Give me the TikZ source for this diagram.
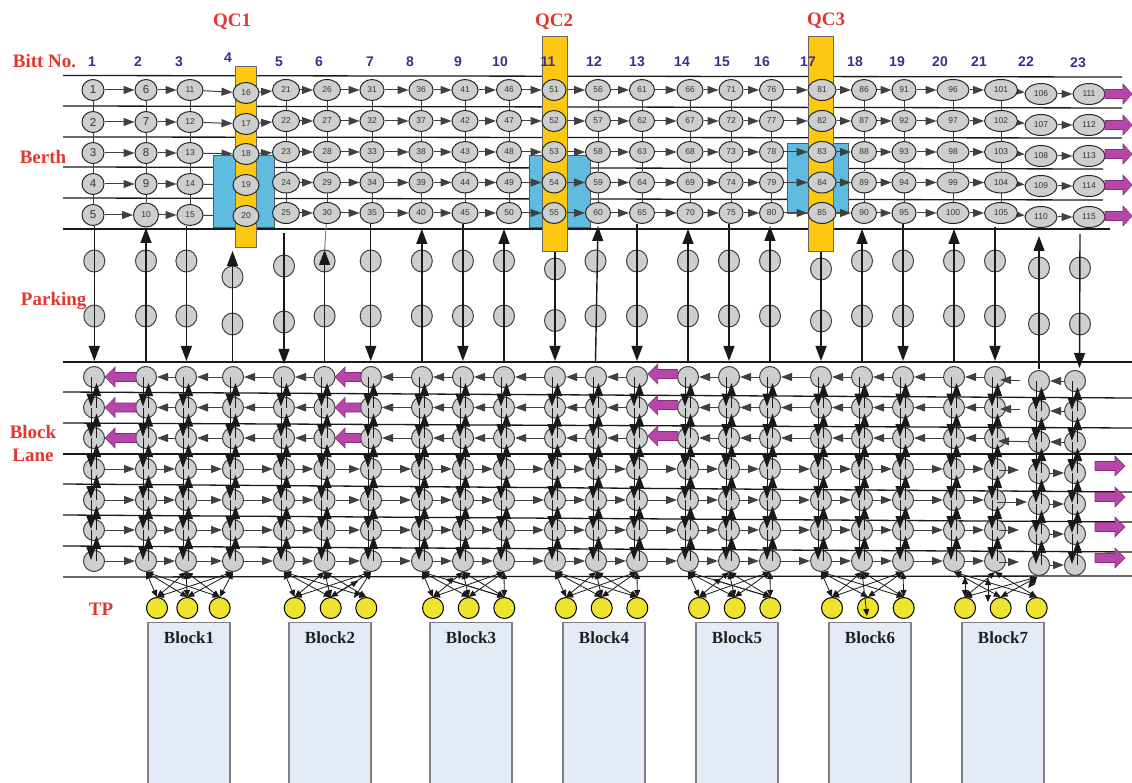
\documentclass[tikz,border=0pt]{standalone}
\usepackage{fontspec}
\setmainfont{Liberation Serif}
\setsansfont{Liberation Sans}
\usetikzlibrary{shapes.geometric,arrows.meta}
\definecolor{redlab}{HTML}{E6352B}
\definecolor{indigo}{HTML}{3B2E92}
\definecolor{nodegray}{HTML}{CDCFCF}
\definecolor{qcyellow}{HTML}{FDC80F}
\definecolor{quayblue}{HTML}{5FBBE0}
\definecolor{tpyellow}{HTML}{EEE32E}
\definecolor{blockfill}{HTML}{E4EBF6}
\definecolor{purp}{HTML}{B846A8}
\pgfdeclarelayer{lines}\pgfdeclarelayer{under}\pgfdeclarelayer{quay}\pgfdeclarelayer{arrows}\pgfdeclarelayer{top}
\pgfsetlayers{lines,under,quay,arrows,main,top}
\tikzset{
 gridline/.style={line width=1.3pt,draw=black!90},
 berthnode/.style={ellipse,draw=black!85,fill=nodegray,line width=1pt,inner sep=0pt,text=black!80,font=\sffamily\fontsize{8.5}{8.5}\selectfont},
 bigdigit/.style={font=\sffamily\fontsize{11.5}{11.5}\selectfont},
 lanenode/.style={circle,draw=black!75,fill=nodegray,line width=1pt,inner sep=0pt,minimum size=21pt},
 parknode/.style={ellipse,draw=black!75,fill=nodegray,line width=1pt,inner sep=0pt,minimum width=21pt,minimum height=22pt},
 tpnode/.style={circle,draw=black,fill=tpyellow,line width=1pt,inner sep=0pt,minimum size=21pt},
 harrow/.style={draw=black!75,line width=1pt,-{Triangle[length=11pt,width=8pt]}},
 vlink/.style={draw=black!75,line width=1pt},
 varrow/.style={draw=black!90,line width=1pt,-{Triangle[length=13pt,width=9pt]}},
 parkline/.style={draw=black!90,line width=1.4pt,-{Triangle[length=15pt,width=11pt]}},
 tpedge/.style={draw=black!90,line width=.8pt,{Triangle[length=7pt,width=6pt]}-{Triangle[length=7pt,width=6pt]}},
 tpstub/.style={draw=black!90,line width=.8pt,-{Triangle[length=7pt,width=6pt]}},
 qcbox/.style={draw=black!60,fill=qcyellow,line width=1pt},
 quaybox/.style={draw=black!65,fill=quayblue,line width=1pt},
 blockbox/.style={draw=black!50,fill=blockfill,line width=1.2pt,anchor=north,minimum width=82pt,minimum height=163pt,inner sep=0pt},
 blocktext/.style={font=\bfseries\fontsize{17}{17}\selectfont,text=black!88},
 redtext/.style={font=\bfseries\fontsize{19}{19}\selectfont,text=redlab},
 bitt/.style={font=\sffamily\bfseries\fontsize{14}{14}\selectfont,text=indigo},
 bigarrow/.style={draw=purp!70!black,fill=purp,line width=.6pt}
}
\newcommand{\parrow}[4]{\draw[bigarrow] (#1,#4-4.5) -- (#2,#4-4.5) -- (#2,#4-10) -- (#3,#4) -- (#2,#4+10) -- (#2,#4+4.5) -- (#1,#4+4.5) -- cycle;}
\begin{document}
\begin{tikzpicture}[x=1pt,y=-1pt]
\useasboundingbox (0,0) rectangle (1132,783);
% ---- grid lines
\begin{pgfonlayer}{lines}
\foreach \ya/\xb/\yb in {75.5/1122/77,106/1122/108,137/1122/138,167/1103/169,198/1103/200,229/1110/229,
  362/1132/362,392/1132/398,423/1132/428,454/1132/454,484/1132/492,515/1132/522,546/1132/552,577/1132/576}
  \draw[gridline] (63,\ya) -- (\xb,\yb);
\end{pgfonlayer}
% ---- quay cranes
\begin{pgfonlayer}{quay}
\draw[quaybox] (213,156) rectangle (274,228);
\draw[quaybox] (529,156) rectangle (590,228);
\draw[quaybox] (787,144) rectangle (848,214);
\draw[qcbox] (235,67) rectangle (256,248);
\draw[qcbox] (542,37) rectangle (567,252);
\draw[qcbox] (808,37) rectangle (833,252);
\end{pgfonlayer}
% ---- berth nodes
\foreach \cl/\x/\w/\g in {1/93/22/1,2/146/22/1,3/190/26/1,4/246/26/2,5/286/27/3,6/327/27/3,7/372/24/3,8/421/24/3,9/465/26/3,10/509/25/3,11/554/24/3,12/598/25/3,13/642/25/3,14/690/26/3,15/731/24/3,16/771.5/24/3,17/822/28/3,18/864/25/3,19/904/24/3,20/953/32/3,21/1001/33/3,22/1041/32/4,23/1089/32/4}{
 \foreach \r/\ya/\yb/\yc/\yd in {1/90/93/90/94,2/122/124/121/125,3/153/154/152/156,4/184/185/182.5/186,5/215/216/213/217}{
  \edef\yy{\ifcase\g\or\ya\or\yb\or\yc\or\yd\fi}
  \pgfmathtruncatemacro{\n}{5*(\cl-1)+\r}
  \ifnum\n=10 \def\hh{24}\def\ww{25}\else\def\hh{21}\edef\ww{\w}\fi
  \ifnum\n<10
   \node[berthnode,bigdigit,minimum width=\ww pt,minimum height=\hh pt] (b\cl-\r) at (\x,\yy) {\n};
  \else
   \node[berthnode,minimum width=\ww pt,minimum height=\hh pt] (b\cl-\r) at (\x,\yy) {\n};
  \fi
 }
}
% ---- berth connectors
\foreach \cl [evaluate=\cl as \nx using int(\cl+1)] in {1,...,22}{
 \foreach \r in {1,...,5}{
  \ifnum\cl=3 \def\lay{under}\else\ifnum\cl=4 \def\lay{under}\else\def\lay{arrows}\fi\fi
  \begin{pgfonlayer}{\lay}
  \draw[harrow] (b\cl-\r) -- (b\nx-\r);
  \end{pgfonlayer}
 }
}
\begin{pgfonlayer}{arrows}
\foreach \cl in {1,2,3,5,6,7,8,9,10,12,13,14,15,16,18,19,20,21}{
 \foreach \r [evaluate=\r as \s using int(\r+1)] in {1,...,4}
  \draw[vlink] (b\cl-\r) -- (b\cl-\s);
}
\end{pgfonlayer}
% ---- parking nodes and their connectors
\foreach \cl/\xs/\xe/\ya/\yb/\ys/\ye in {1/94.3/94.3/261/316/226/361,2/146/146/261/316/361/228,3/186.4/186.4/261/316/226/361,
 4/232.5/232.5/277/324/361/251,5/284/284/266/322/233/364,6/324.6/324.6/261/316/361/250,7/370.7/370.7/261/316/224/361,
 8/421.8/421.8/261/316/361/229,9/462.9/462.9/261/316/224/361,10/504/504/261/316/361/229,11/555/555/269/320.5/252/361,
 12/595.5/598/261/316/361/226,13/637/637/261/316/224/361,14/688/688/261/316/361/229,15/729/729/261/316/224/361,
 16/770/770/261/316/361/226,17/821/821/269/321/252/361,18/862/862/261/316/361/229,19/903/903/261/316/224/361,
 20/954/954/261/316/361/229,21/995/995/261/316/227/361,22/1039/1039/268/324/369/236,23/1080/1079.5/268/324/234/368}{
 \node[parknode] (p\cl-1) at (\xs,\ya) {};
 \node[parknode] (p\cl-2) at (\xs,\yb) {};
 \coordinate (ps\cl) at (\xs,\ys);
 \coordinate (pe\cl) at (\xe,\ye);
 \begin{pgfonlayer}{top}
 \draw[parkline] (ps\cl) -- (pe\cl);
 \end{pgfonlayer}
}
\begin{pgfonlayer}{arrows}
\draw[draw=black!50,line width=1pt] (b6-5) -- (pe6);
\end{pgfonlayer}
% ---- block lane nodes
\foreach \cl/\x/\g in {1/94/1,2/146/1,3/186/1,4/233/1,5/284/1,6/324.5/1,7/371/1,8/422/1,9/463/1,10/504/1,11/555/1,12/596/1,13/637/1,14/688/1,15/729/1,16/770/1,17/821/1,18/862/1,19/903/1,20/954/1,21/995/1,22/1039/2,23/1075/2}{
 \foreach \r/\ya/\yb in {1/377/381,2/407.5/411,3/438/442,4/469/473,5/500/504,6/530/534,7/561/565}{
  \edef\yy{\ifcase\g\or\ya\or\yb\fi}
  \node[lanenode] (l\cl-\r) at (\x,\yy) {};
 }
 \begin{pgfonlayer}{top}
 \foreach \r [evaluate=\r as \s using int(\r+1)] in {1,...,6}{
  \draw[varrow] ([xshift=-3pt]l\cl-\r.center) -- ([xshift=-3pt,yshift=1pt]l\cl-\s.center);
  \draw[varrow] ([xshift=2.5pt]l\cl-\s.center) -- ([xshift=2.5pt,yshift=-6pt]l\cl-\r.center);
 }
 \end{pgfonlayer}
}
% ---- lane connectors
\begin{pgfonlayer}{arrows}
\foreach \cl [evaluate=\cl as \nx using int(\cl+1)] in {1,...,20,22}{
 \foreach \r in {1,2,3}{
  \ifnum\cl=1 \else\ifnum\cl=6 \else\ifnum\cl=13 \else
   \draw[harrow] (l\nx-\r) -- (l\cl-\r);
  \fi\fi\fi
 }
 \foreach \r in {4,...,7}
  \draw[harrow] (l\cl-\r) -- (l\nx-\r);
}
\end{pgfonlayer}
% lanes between 21 and 22: free-ended arrows, drawn over the nodes
\coordinate (fa1) at (1020,380); \coordinate (fb1) at (1000,380);
\coordinate (fa2) at (1020,409); \coordinate (fb2) at (1000,409);
\coordinate (fb3) at (998,441);
\coordinate (fa4) at (999,470);  \coordinate (fb4) at (1019,470);
\coordinate (fa5) at (997,502);  \coordinate (fb5) at (1027,502);
\coordinate (fa6) at (999,530);  \coordinate (fb6) at (1019,530);
\coordinate (fa7) at (999,562);  \coordinate (fb7) at (1019,562);
\begin{pgfonlayer}{top}
\draw[harrow] (fa1) -- (fb1);
\draw[harrow] (fa2) -- (fb2);
\draw[harrow] (l22-3) -- (fb3);
\draw[harrow] (fa4) -- (fb4);
\draw[harrow] (fa5) -- (fb5);
\draw[harrow] (fa6) -- (fb6);
\draw[harrow] (fa7) -- (fb7);
\end{pgfonlayer}
% ---- transfer points and blocks
\foreach \bk/\xc/\ca/\cb/\cc/\ta/\tb/\tc in {1/189/2/3/4/157/187.3/219.7,2/330/5/6/7/294.7/330.7/366.3,3/471/8/9/10/433/468.7/504.3,4/604/11/12/13/566/601.7/637.3,5/737/14/15/16/699/734.7/770.3,6/870/17/18/19/832/868/903.7,7/1003/20/21/22/965/1000.7/1036.7}{
 \node[tpnode] (t\bk-1) at (\ta,608) {};
 \node[tpnode] (t\bk-2) at (\tb,608) {};
 \node[tpnode] (t\bk-3) at (\tc,608) {};
 \node[blockbox] (blk\bk) at (\xc,622) {};
 \node[blocktext] (blktxt\bk) at (\xc,638) {Block\bk};
 \ifnum\bk<7
 \begin{pgfonlayer}{top}
 \foreach \s/\ki in {\ca/1,\cb/2,\cc/3}{
  \foreach \tg in {1,2,3}{
   \edef\pair{\bk\ki\tg}
   \ifnum\pair=233 \else\ifnum\pair=622 \else
    \draw[tpedge] (l\s-7.south) -- (t\bk-\tg.north);
   \fi\fi
  }
 }
 \end{pgfonlayer}
 \fi
}
\coordinate (ex2) at (354,598);
\coordinate (ex6) at (867,616);
\coordinate (ex7a) at (965,577);
\coordinate (ex7b) at (988,578);
\coordinate (ex7c) at (988,602);
\coordinate (ex7d) at (1028,588);
\coordinate (ex7e) at (1037,577);
\coordinate (st2) at (358,581);
\coordinate (st3) at (445.7,579);
\coordinate (st5) at (713,579.6);
\begin{pgfonlayer}{top}
\draw[tpedge] (l7-7.south) -- (ex2);
\draw[tpedge] (l18-7.south) -- (ex6);
\draw[tpedge] (ex7a) -- (t7-1.north);
\draw[tpedge] (l20-7.south) -- (t7-2.north);
\draw[tpedge] (l20-7.south) -- (t7-3.north);
\draw[tpedge] (l21-7.south) -- (t7-1.north);
\draw[tpedge] (ex7b) -- (ex7c);
\draw[tpedge] (l21-7.south) -- (t7-3.north);
\draw[tpedge] (ex7e) -- (t7-1.north);
\draw[tpedge] (ex7e) -- (t7-2.north);
\draw[tpedge] (ex7e) -- (ex7d);
\draw[tpstub] (t2-2.north) -- (st2);
\draw[tpstub] (t3-3.north) -- (st3);
\draw[tpstub] (t5-3.north) -- (st5);
% ---- purple arrows
\foreach \y in {377,407.5,438}{ \parrow{136}{115}{105}{\y} \parrow{361}{345}{335}{\y} }
\foreach \y in {374,405,436}{ \parrow{677.7}{657.7}{647.7}{\y} }
\foreach \y in {94,125,154,185,216}{ \parrow{1105}{1123}{1132}{\y} }
\foreach \y in {466,497,527,558}{ \parrow{1095}{1115}{1125}{\y} }
\end{pgfonlayer}
% ---- text
\node[redtext] (qc1) at (232,22) {QC1};
\node[redtext] (qc2) at (554,22) {QC2};
\node[redtext] (qc3) at (826,21) {QC3};
\node[redtext] (lbitt) at (44.5,61) {Bitt No.};
\node[redtext] (lberth) at (43,157) {Berth};
\node[redtext] (lpark) at (53.7,301.5) {Parking};
\node[redtext] (lblock) at (33,432) {Block};
\node[redtext] (llane) at (33,455) {Lane};
\node[redtext] (ltp) at (101,609) {TP};
\foreach \n/\x/\y in {1/92/62,2/138/62,3/179/62,4/228/58,5/279/62,6/319/62,7/370/62,8/410/62,9/458/62,10/500/62,11/548/62,12/594/62,13/637/62,14/682/62,15/722/62,16/762/62,17/808/62,18/855/62,19/897/62,20/940/62,21/979/62,22/1026/62,23/1078/63}
 \node[bitt] (bt\n) at (\x,\y) {\n};
\end{tikzpicture}
\end{document}
